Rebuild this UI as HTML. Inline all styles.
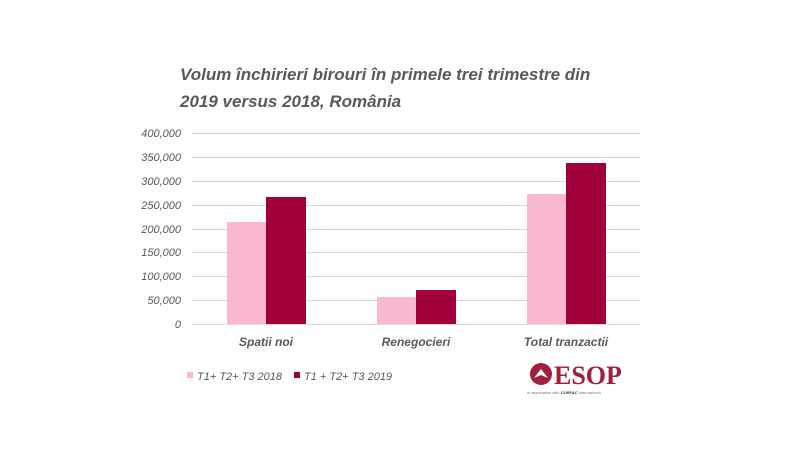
<!DOCTYPE html>
<html><head><meta charset="utf-8"><style>
html,body{margin:0;padding:0;background:#fff;}
svg{display:block;font-family:"Liberation Sans",sans-serif;}
</style></head><body>
<svg width="800" height="450" viewBox="0 0 800 450" xmlns="http://www.w3.org/2000/svg">
<rect width="800" height="450" fill="#fff"/>
<g font-size="17" font-weight="bold" font-style="italic" fill="#595959">
<text x="180" y="80">Volum închirieri birouri în primele trei trimestre din</text>
<text x="180" y="107">2019 versus 2018, România</text>
</g>
<g stroke="#d9d9d9" stroke-width="1">
<line x1="192" x2="640" y1="133.5" y2="133.5"/>
<line x1="192" x2="640" y1="157.5" y2="157.5"/>
<line x1="192" x2="640" y1="181.5" y2="181.5"/>
<line x1="192" x2="640" y1="205.5" y2="205.5"/>
<line x1="192" x2="640" y1="229.5" y2="229.5"/>
<line x1="192" x2="640" y1="252.5" y2="252.5"/>
<line x1="192" x2="640" y1="276.5" y2="276.5"/>
<line x1="192" x2="640" y1="300.5" y2="300.5"/>
<line x1="192" x2="640" y1="324.5" y2="324.5"/>
</g>
<g font-size="11" font-style="italic" fill="#595959" text-anchor="end">
<text x="181" y="137">400,000</text>
<text x="181" y="161">350,000</text>
<text x="181" y="185">300,000</text>
<text x="181" y="209">250,000</text>
<text x="181" y="233">200,000</text>
<text x="181" y="256">150,000</text>
<text x="181" y="280">100,000</text>
<text x="181" y="304">50,000</text>
<text x="181" y="328">0</text>
</g>
<g fill="#fbb8d2">
<rect x="227" y="222" width="39" height="102"/>
<rect x="377" y="297" width="39" height="27"/>
<rect x="527" y="194" width="39" height="130"/>
</g>
<g fill="#a0003c">
<rect x="266" y="197" width="40" height="127"/>
<rect x="416" y="290" width="40" height="34"/>
<rect x="566" y="163" width="40" height="161"/>
</g>
<g font-size="12" font-weight="bold" font-style="italic" fill="#595959" text-anchor="middle">
<text x="266" y="346">Spatii noi</text>
<text x="416" y="346">Renegocieri</text>
<text x="566" y="346">Total tranzactii</text>
</g>
<rect x="187" y="372" width="6" height="6" fill="#fbb8d2"/>
<rect x="294" y="372" width="6" height="6" fill="#a0003c"/>
<g font-size="11" font-style="italic" fill="#595959">
<text x="197" y="380">T1+ T2+ T3 2018</text>
<text x="304" y="380">T1 + T2+ T3 2019</text>
</g>
<circle cx="541" cy="374" r="11" fill="#a0203c"/>
<path d="M534 378 L541 369 L548 378 L541 375 Z" fill="#fff"/>
<text x="554" y="384" font-family="Liberation Serif,serif" font-weight="bold" font-size="26" fill="#a0203c">ESOP</text>
<text x="527" y="394" font-size="4" fill="#777">in association with <tspan font-weight="bold" font-style="italic" fill="#333">CORFAC</tspan> International</text>
</svg>
</body></html>
